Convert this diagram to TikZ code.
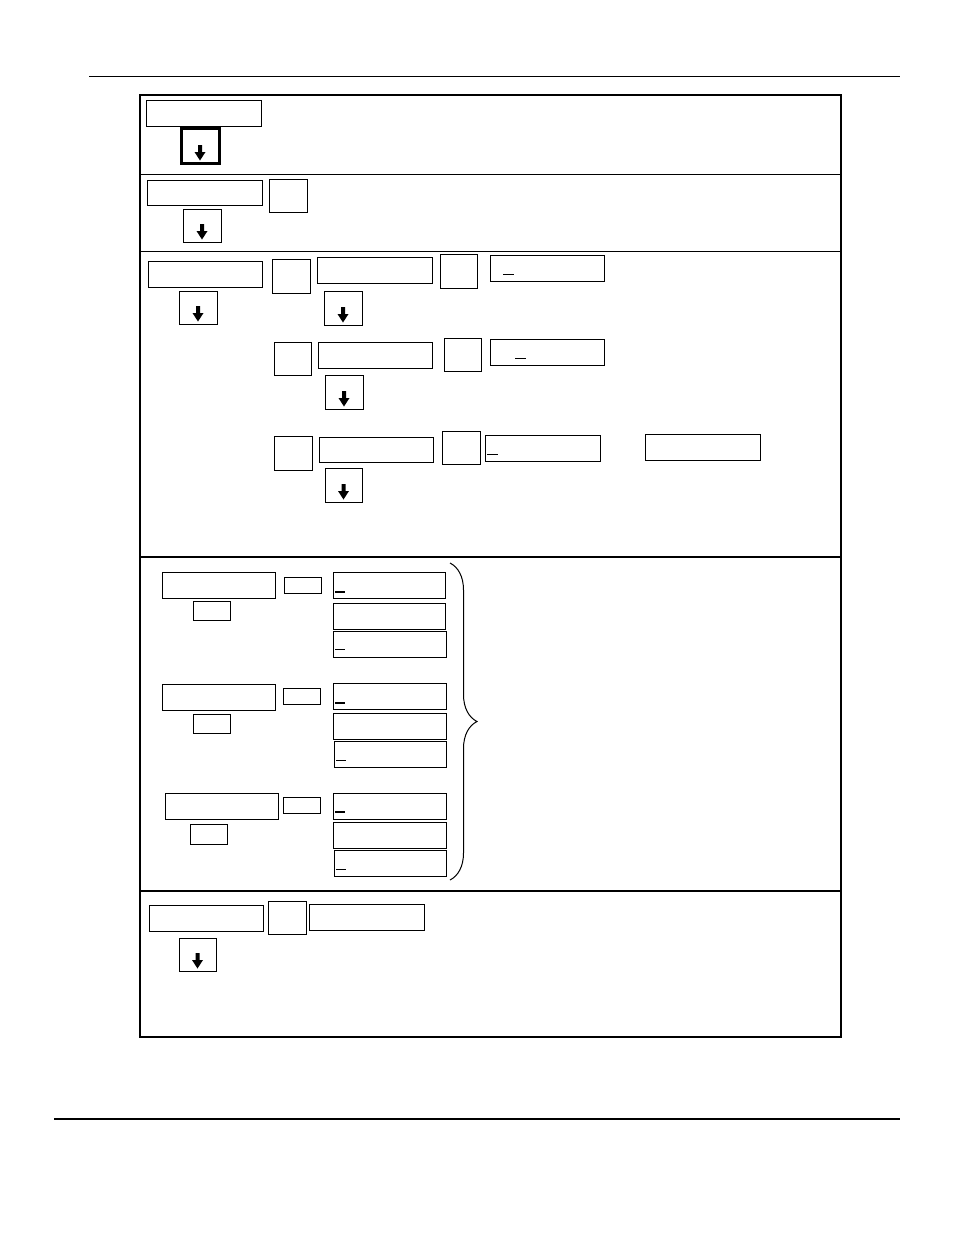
\documentclass[tikz,border=0pt]{standalone}
\usetikzlibrary{decorations.pathreplacing}
\tikzset{
  box/.style={draw, line width=1pt, inner sep=0pt, outer sep=0pt},
  arrowbox/.style={box},
  thickbox/.style={draw, line width=3pt, inner sep=0pt, outer sep=0pt},
  frameline/.style={line width=2pt},
  rule/.style={line width=1pt},
  ulmark/.style={line width=1pt},
  boldulmark/.style={line width=2pt},
  bracestyle/.style={line width=1pt, decorate, decoration={brace, amplitude=27pt, aspect=0.5}}
}
\newcommand\bx[6][box]{\node[#1, minimum width={(#5-#3)*1pt}, minimum height={(#6-#4)*1pt}] (#2) at ({(#3+#5)/2},{(#4+#6)/2}) {};}
\newcommand\arr[6][arrowbox]{\bx[#1]{#2}{#3}{#4}{#5}{#6}\fill[shift={(#2.south)}] (-2,-18) -- (2,-18) -- (2,-11) -- (5.5,-11) -- (0,-2.5) -- (-5.5,-11) -- (-2,-11) -- cycle;}
\begin{document}
\begin{tikzpicture}[x=1pt,y=-1pt]
\useasboundingbox (0,0) rectangle (954,1235);
% page rules
\coordinate (t1) at (89,76); \coordinate (t2) at (900,76);
\draw[rule] (t1) -- (t2);
\coordinate (b1) at (54,1119); \coordinate (b2) at (900,1119);
\draw[line width=2pt] (b1) -- (b2);
% frame
\bx[draw, line width=2pt, inner sep=0pt]{frame}{140}{95}{841}{1037}
\draw[rule] (frame.west |- 0,174) -- (frame.east |- 0,174);
\draw[rule] (frame.west |- 0,251) -- (frame.east |- 0,251);
\draw[frameline] (frame.west |- 0,557) -- (frame.east |- 0,557);
\draw[frameline] (frame.west |- 0,891) -- (frame.east |- 0,891);
% section 1
\bx{s1a}{146}{100}{261}{126}
\arr[thickbox]{s1arr}{181}{128}{219}{163}
% section 2
\bx{s2a}{147}{180}{262}{205}
\bx{s2b}{269}{179}{307}{212}
\arr{s2arr}{183}{209}{221}{242}
% section 3
\bx{s3a}{148}{261}{262}{287}
\arr{s3arr}{179}{291}{217}{324}
\bx{r1a}{272}{259}{310}{293}
\bx{r1b}{317}{257}{432}{283}
\bx{r1c}{440}{254}{477}{288}
\bx{r1d}{490}{255}{604}{281}
\draw[ulmark] (503,274) -- (514,274);
\arr{r1arr}{324}{291}{362}{325}
\bx{r2a}{274}{342}{311}{375}
\bx{r2b}{318}{342}{432}{368}
\bx{r2c}{444}{338}{481}{371}
\bx{r2d}{490}{339}{604}{365}
\draw[ulmark] (515,358) -- (526,358);
\arr{r2arr}{325}{375}{363}{409}
\bx{r3a}{274}{436}{312}{470}
\bx{r3b}{319}{437}{433}{462}
\bx{r3c}{442}{431}{480}{464}
\bx{r3d}{485}{435}{600}{461}
\draw[ulmark] (487,454) -- (498,454);
\bx{r3e}{645}{434}{760}{460}
\arr{r3arr}{325}{468}{362}{502}
% section 4
\bx{g1a}{162}{572}{275}{598}
\bx{g1b}{193}{601}{230}{620}
\bx{g1c}{284}{577}{321}{593}
\bx{g1d}{333}{572}{445}{598}
\draw[boldulmark] (335,592) -- (345,592);
\bx{g1e}{333}{603}{445}{629}
\bx{g1f}{333}{631}{446}{657}
\draw[ulmark] (335,649) -- (345,649);
\bx{g2a}{162}{684}{275}{710}
\bx{g2b}{193}{714}{230}{733}
\bx{g2c}{283}{688}{320}{704}
\bx{g2d}{333}{683}{446}{709}
\draw[boldulmark] (335,703) -- (345,703);
\bx{g2e}{333}{713}{446}{739}
\bx{g2f}{334}{741}{446}{767}
\draw[ulmark] (336,760) -- (346,760);
\bx{g3a}{165}{793}{278}{819}
\bx{g3b}{190}{824}{227}{844}
\bx{g3c}{283}{797}{320}{813}
\bx{g3d}{333}{793}{446}{819}
\draw[boldulmark] (335,812) -- (345,812);
\bx{g3e}{333}{822}{446}{848}
\bx{g3f}{334}{850}{446}{876}
\draw[ulmark] (336,869) -- (346,869);
\coordinate (br1) at (450,563); \coordinate (br2) at (450,880);
\draw[bracestyle] (br1) -- (br2);
% section 5
\bx{s5a}{149}{905}{263}{931}
\bx{s5b}{268}{901}{306}{934}
\bx{s5c}{309}{904}{424}{930}
\arr{s5arr}{179}{938}{216}{971}
\end{tikzpicture}
\end{document}
